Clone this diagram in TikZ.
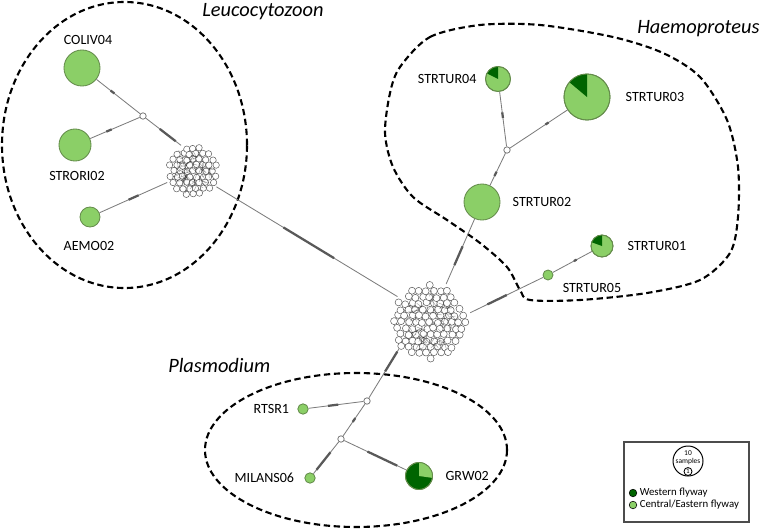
\documentclass[tikz,border=0pt]{standalone}
\usepackage{fontspec}
\setmainfont{Carlito}
\usepackage{tikz}
\usetikzlibrary{positioning, calc}

\definecolor{hapgreen}{RGB}{139,207,103}
\definecolor{hapdark}{RGB}{0,100,0}
\definecolor{hapline}{RGB}{100,140,75}
\definecolor{netgray}{RGB}{125,125,125}

\tikzset{
    hap/.style = {
        circle,
        inner sep=0pt,
        fill=hapgreen,
        draw=hapline,
        line width=0.6pt,
    },
    junc/.style = {
        circle,
        inner sep=0pt,
        minimum size=0.16cm,
        fill=white,
        draw=netgray,
        line width=0.6pt,
    },
    clus/.style = {
        circle,
        inner sep=0pt,
    },
    lbl/.style = {
        inner sep=0pt,
        font=\fontsize{10}{12}\selectfont,
    },
    keylbl/.style = {
        inner sep=0pt,
        font=\fontsize{7.7}{9}\selectfont,
    },
    zone/.style = {
        draw,
        line width=1.5pt,
        dash pattern=on 4.5pt off 2.6pt,
    },
    zonelbl/.style = {
        inner sep=0pt,
        anchor=base west,
        font=\itshape\fontsize{14.5}{17}\selectfont,
    },
    link/.style = {
        draw=netgray,
        line width=0.6pt,
    },
    mut/.style = {
        draw=black!65,
        line width=1.6pt,
    },
    cball/.style = {
        fill=white,
        draw=black!65,
        line width=0.35pt,
    },
}

% cloud of haplotypes: x, y, radius of cloud, radius of one ball
\newcommand{\hapnet}[4]{%
  \begin{scope}[shift={(#1,#2)}]
    \foreach \k in {1,...,120}{
      \pgfmathsetmacro\ta{360*rnd}
      \pgfmathsetmacro\ra{0.7*#3*sqrt(rnd)}
      \pgfmathsetmacro\tb{360*rnd}
      \draw[black!60, line width=0.3pt] (\ta:\ra) -- ++(\tb:{2*#4});
    }
    \pgfmathsetmacro\limsq{(#3-#4)*(#3-#4)}
    \foreach \i in {-8,...,8}{
      \foreach \j in {-8,...,8}{
        \pgfmathsetmacro\cx{(\i+0.5*\j)*2.05*#4+0.3*#4*rand}
        \pgfmathsetmacro\cy{\j*1.78*#4+0.3*#4*rand}
        \pgfmathsetmacro\dsq{\cx*\cx+\cy*\cy}
        \ifdim\dsq pt<\limsq pt
          \draw[cball] (\cx,\cy) circle[radius=#4];
        \fi
      }
    }
    \foreach \k in {1,...,70}{
      \pgfmathsetmacro\ta{360*rnd}
      \pgfmathsetmacro\ra{0.65*#3*sqrt(rnd)}
      \pgfmathsetmacro\tb{360*rnd}
      \draw[black, opacity=0.35, line width=0.35pt] (\ta:\ra) -- ++(\tb:{1.8*#4});
    }
  \end{scope}
}

\begin{document}
\begin{tikzpicture}[x=0.025cm, y=0.025cm]
    \useasboundingbox (0,0) rectangle (762,529);
    \pgfmathsetseed{11}

    % groups
    \draw[zone] (124.5,384) ellipse [x radius=122.5, y radius=143];
    \draw[zone] plot[smooth cycle] coordinates {
        (400,462) (430,492) (480,504) (540,504) (613,492) (663,476)
        (700,452) (727,409) (738,362) (738,312) (730,276) (700,249)
        (647,236) (580,229) (530,229) (520,239) (507,262) (480,286)
        (447,309) (413,332) (393,362) (385,396) (390,436)};
    \draw[zone] (356,79) ellipse [x radius=151, y radius=77];

    \node(leuLbl) [zonelbl] at (202,512) {Leucocytozoon};
    \node(haeLbl) [zonelbl] at (637,496) {Haemoproteus};
    \node(plaLbl) [zonelbl] at (168,157) {Plasmodium};

    % haplotypes
    \node(cL) [clus, minimum size=1.4cm] at (193,358) {};
    \node(cM) [clus, minimum size=2.05cm] at (430,207) {};

    \node(coliv) [hap, minimum size=0.9cm] at (82,461) {};
    \node(jL) [junc] at (143,413) {};
    \node(strori) [hap, minimum size=0.8cm] at (75,384) {};
    \node(aemo) [hap, minimum size=0.5cm] at (90,312) {};

    \node(tur2) [hap, minimum size=0.9cm] at (482,327) {};
    \node(jH) [junc] at (507,379) {};
    \node(tur4) [hap, minimum size=0.625cm] at (498,450) {};
    \node(tur3) [hap, minimum size=1.15cm] at (587,432) {};
    \node(tur5) [hap, minimum size=0.25cm] at (548,254) {};
    \node(tur1) [hap, minimum size=0.55cm] at (602,283) {};

    \node(jP1) [junc] at (367,128) {};
    \node(rtsr) [hap, minimum size=0.26cm] at (303,120) {};
    \node(jP2) [junc] at (341,90) {};
    \node(milans) [hap, minimum size=0.26cm] at (310,51) {};
    \node(grw) [hap, fill=hapdark, minimum size=0.675cm] at (419,53) {};

    % western part of the pies
    \fill[hapdark] (tur4.center) -- ++(90:12.5) arc[start angle=90, end angle=153, radius=12.5] -- cycle;
    \fill[hapdark] (tur3.center) -- ++(90:23) arc[start angle=90, end angle=140, radius=23] -- cycle;
    \fill[hapdark] (tur1.center) -- ++(90:11) arc[start angle=90, end angle=160, radius=11] -- cycle;
    \fill[hapgreen] (grw.center) -- ++(-8:13.5) arc[start angle=-8, end angle=90, radius=13.5] -- cycle;
    \draw[hapline, line width=0.6pt] (tur4.center) circle[radius=12.5];
    \draw[hapline, line width=0.6pt] (tur3.center) circle[radius=23];
    \draw[hapline, line width=0.6pt] (tur1.center) circle[radius=11];
    \draw[hapline, line width=0.6pt] (grw.center) circle[radius=13.5];

    % labels
    \node(colivLbl) [lbl] at (88,489) {COLIV04};
    \node(stroriLbl) [lbl] at (77,353) {STRORI02};
    \node(aemoLbl) [lbl] at (89,283) {AEMO02};
    \node(tur4Lbl) [lbl, left=0.21cm of tur4] {STRTUR04};
    \node(tur3Lbl) [lbl, right=0.375cm of tur3] {STRTUR03};
    \node(tur2Lbl) [lbl, right=0.3cm of tur2] {STRTUR02};
    \node(tur1Lbl) [lbl, right=0.35cm of tur1] {STRTUR01};
    \node(tur5Lbl) [lbl] at (592,241) {STRTUR05};
    \node(rtsrLbl) [lbl, left=0.2cm of rtsr] {RTSR1};
    \node(milansLbl) [lbl, left=0.25cm of milans] {MILANS06};
    \node(grwLbl) [lbl, right=0.31cm of grw] {GRW02};

    % links
    \draw[link] (coliv) -- (jL);
    \draw[link] (strori) -- (jL);
    \draw[link] (jL) -- (cL.115);
    \draw[link] (aemo) -- (cL.204);
    \draw[link] (cL.326) -- (cM.142);
    \draw[link] (cM.67) -- (tur2);
    \draw[link] (tur2) -- (jH);
    \draw[link] (jH) -- (tur4);
    \draw[link] (jH) -- (tur3);
    \draw[link] (cM.13) -- (tur5);
    \draw[link] (tur5) -- (tur1);
    \draw[link] (cM.221) -- (jP1);
    \draw[link] (jP1) -- (rtsr);
    \draw[link] (jP1) -- (jP2);
    \draw[link] (jP2) -- (milans);
    \draw[link] (jP2) -- (grw);

    % mutations
    \draw[mut] ($(coliv)!0.47!(jL)$) -- ($(coliv)!0.53!(jL)$);
    \draw[mut] ($(strori)!0.46!(jL)$) -- ($(strori)!0.54!(jL)$);
    \draw[mut] ($(jL)!0.44!(cL.115)$) -- ($(jL)!0.86!(cL.115)$);
    \draw[mut] ($(aemo)!0.5!(cL.204)$) -- ($(aemo)!0.63!(cL.204)$);
    \draw[mut] ($(cL.326)!0.37!(cM.142)$) -- ($(cL.326)!0.65!(cM.142)$);
    \draw[mut] ($(cM.67)!0.23!(tur2)$) -- ($(cM.67)!0.46!(tur2)$);
    \draw[mut] ($(tur2)!0.5!(jH)$) -- ($(tur2)!0.58!(jH)$);
    \draw[mut] ($(jH)!0.45!(tur4)$) -- ($(jH)!0.53!(tur4)$);
    \draw[mut] ($(jH)!0.48!(tur3)$) -- ($(jH)!0.52!(tur3)$);
    \draw[mut] ($(cM.13)!0.22!(tur5)$) -- ($(cM.13)!0.47!(tur5)$);
    \draw[mut] ($(tur5)!0.48!(tur1)$) -- ($(tur5)!0.53!(tur1)$);
    \draw[mut] ($(cM.221)!0.05!(jP1)$) -- ($(cM.221)!0.43!(jP1)$);
    \draw[mut] ($(jP1)!0.45!(rtsr)$) -- ($(jP1)!0.61!(rtsr)$);
    \draw[mut] ($(jP1)!0.45!(jP2)$) -- ($(jP1)!0.55!(jP2)$);
    \draw[mut] ($(jP2)!0.34!(milans)$) -- ($(jP2)!0.79!(milans)$);
    \draw[mut] ($(jP2)!0.34!(grw)$) -- ($(jP2)!0.72!(grw)$);

    % clouds
    \hapnet{193}{358}{28}{3.2}
    \hapnet{430}{207}{41}{3.5}

    % key
    \draw[black!70, line width=0.8pt] (624,87) rectangle (749,7);
    \node(keyBig) [circle, draw, line width=0.7pt, minimum size=0.75cm, inner sep=0pt] at (688,68) {};
    \node(keyTxt) [align=center, inner sep=0pt, font=\fontsize{5.3}{5.5}\selectfont] at (688,71) {10\\samples};
    \node(keySmall) [circle, draw, line width=0.6pt, minimum size=0.2cm, inner sep=0pt,
        font=\fontsize{5}{5}\selectfont] at (688,57.5) {1};
    \node(keyW) [circle, draw, fill=hapdark, minimum size=0.19cm, inner sep=0pt] at (633,36) {};
    \node(keyWLbl) [keylbl, right=0.06cm of keyW] {Western flyway};
    \node(keyC) [circle, draw, fill=hapgreen, minimum size=0.19cm, inner sep=0pt] at (633,24) {};
    \node(keyCLbl) [keylbl, right=0.06cm of keyC] {Central/Eastern flyway};

\end{tikzpicture}
\end{document}
